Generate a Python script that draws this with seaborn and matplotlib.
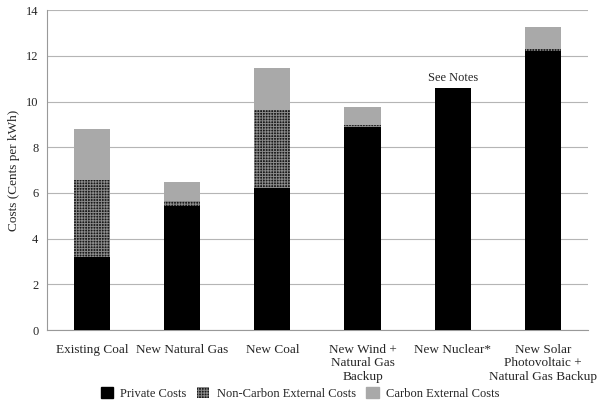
import numpy as np
import pandas as pd
import matplotlib
matplotlib.use("Agg")
import matplotlib.pyplot as plt
import seaborn as sns
from matplotlib.patches import Patch

# --- DATA (cents per kWh) ---
categories = ["Existing Coal", "New Natural Gas", "New Coal",
              "New Wind +\nNatural Gas\nBackup", "New Nuclear*",
              "New Solar\nPhotovoltaic +\nNatural Gas Backup"]
private_costs = [3.2, 5.45, 6.22, 8.9, 10.6, 12.22]
non_carbon_costs = [3.36, 0.2, 3.4, 0.07, 0.0, 0.08]
carbon_costs = [2.22, 0.85, 1.85, 0.78, 0.0, 0.95]

df = pd.DataFrame({
    "Technology": categories,
    "Private": private_costs,
    "NonCarbon": non_carbon_costs,
    "Carbon": carbon_costs,
})
df["Level2"] = df["Private"] + df["NonCarbon"]
df["Total"] = df["Level2"] + df["Carbon"]

sns.set_style("white")
plt.rcParams["font.family"] = ["Liberation Serif", "DejaVu Serif"]
plt.rcParams["hatch.linewidth"] = 0.7

HATCH = "++++++"
HATCH_FACE = "#1a1a1a"
HATCH_EDGE = "#8a8a8a"

fig = plt.figure(figsize=(6, 4.08), dpi=100)
ax = fig.add_axes([0.078, 0.191, 0.902, 0.784])

# stacked by overlaying cumulative heights
sns.barplot(data=df, x="Technology", y="Total", color="#a9a9a9",
            width=0.4, saturation=1, ax=ax, zorder=2, linewidth=0)
sns.barplot(data=df, x="Technology", y="Level2", color=HATCH_FACE,
            width=0.4, saturation=1, ax=ax, zorder=3,
            hatch=HATCH, edgecolor=HATCH_EDGE, linewidth=0)
sns.barplot(data=df, x="Technology", y="Private", color="black",
            width=0.4, saturation=1, ax=ax, zorder=4, linewidth=0)

ax.set_ylim(0, 14)
ax.set_xlim(-0.5, len(categories) - 0.5)
ax.set_yticks(np.arange(0, 15, 2))
ax.yaxis.grid(True, color="#b5b5b5", linewidth=0.8)
ax.set_axisbelow(True)
ax.tick_params(axis="y", length=0, labelsize=9, pad=6)
ax.tick_params(axis="x", length=0, labelsize=9.5, pad=10)
ax.set_xticks(range(len(categories)))
ax.set_xticklabels(categories, linespacing=1.15)
# boundary ticks between categories
ax.set_xticks(np.arange(-0.5, len(categories)), minor=True)
ax.tick_params(axis="x", which="minor", length=4, color="#999999")

for side in ["top", "right"]:
    ax.spines[side].set_visible(False)
for side in ["left", "bottom"]:
    ax.spines[side].set_color("#999999")
    ax.spines[side].set_linewidth(0.8)

ax.set_xlabel("")
ax.set_ylabel("Costs (Cents per kWh)", fontsize=9.5)

# note above nuclear bar
ax.text(4, private_costs[4] + 0.15, "See Notes", ha="center", va="bottom", fontsize=9)

handles = [
    Patch(facecolor="black", edgecolor="black", label="Private Costs"),
    Patch(facecolor=HATCH_FACE, edgecolor=HATCH_EDGE, hatch=HATCH, linewidth=0,
          label="Non-Carbon External Costs"),
    Patch(facecolor="#a9a9a9", edgecolor="#a9a9a9", label="Carbon External Costs"),
]
fig.legend(handles=handles, loc="center", bbox_to_anchor=(0.5, 0.035), ncol=3,
           frameon=False, fontsize=9, handlelength=1.0, handleheight=1.0,
           columnspacing=0.8, handletextpad=0.6)

fig.savefig("out.png", dpi=100)
